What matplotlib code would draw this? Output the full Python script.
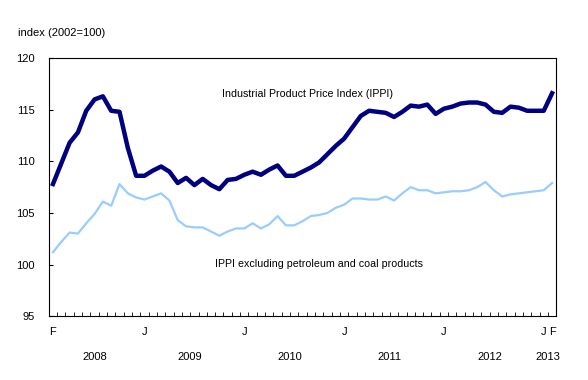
import numpy as np
import matplotlib
matplotlib.use("Agg")
import matplotlib.pyplot as plt

plt.rcParams["font.family"] = ["Liberation Sans", "DejaVu Sans"]

# monthly, Feb 2008 .. Feb 2013
ippi = [107.8, 109.8, 111.8, 112.8, 114.9, 116.0, 116.3, 114.9, 114.8, 111.3,
        108.6, 108.6, 109.1, 109.5, 109.0, 107.9, 108.4, 107.7, 108.3, 107.7,
        107.3, 108.2, 108.3, 108.7, 109.0, 108.7, 109.2, 109.6, 108.6, 108.6,
        109.0, 109.4, 109.9, 110.7, 111.5, 112.2, 113.3, 114.4, 114.9, 114.8,
        114.7, 114.3, 114.8, 115.4, 115.3, 115.5, 114.6, 115.1, 115.3, 115.6,
        115.7, 115.7, 115.5, 114.8, 114.7, 115.3, 115.2, 114.9, 114.9, 114.9,
        116.6]
ippi_ex = [101.2, 102.2, 103.1, 103.0, 104.0, 104.9, 106.1, 105.7, 107.8, 106.9,
           106.5, 106.3, 106.6, 106.9, 106.2, 104.3, 103.7, 103.6, 103.6, 103.2,
           102.8, 103.2, 103.5, 103.5, 104.0, 103.5, 103.9, 104.7, 103.8, 103.8,
           104.2, 104.7, 104.8, 105.0, 105.5, 105.8, 106.4, 106.4, 106.3, 106.3,
           106.6, 106.2, 106.9, 107.5, 107.2, 107.2, 106.9, 107.0, 107.1, 107.1,
           107.2, 107.5, 108.0, 107.2, 106.6, 106.8, 106.9, 107.0, 107.1, 107.2,
           107.9]
month_ticks = [0, 11, 23, 35, 47, 59, 60]
month_labels = ["F", "J", "J", "J", "J", "J", "F"]
years = ["2008", "2009", "2010", "2011", "2012", "2013"]
year_pos = [5, 16.5, 28.5, 40.5, 52.5, 59.5]

x = np.arange(len(ippi))

fig = plt.figure(figsize=(5.88, 3.80), dpi=100)
ax = fig.add_axes([0.083, 0.168, 0.863, 0.679])

ax.plot(x, ippi, color="#000080", lw=3.2, solid_joinstyle="round")
ax.plot(x, ippi_ex, color="#99ccff", lw=1.6)

ax.set_xlim(-0.5, 60.4)
ax.set_ylim(95, 120)
ax.set_yticks([95, 100, 105, 110, 115, 120])
ax.tick_params(axis="y", direction="in", length=3, labelsize=8, pad=10)
ax.set_xticks(month_ticks)
ax.set_xticklabels(month_labels)
ax.set_xticks(np.arange(-0.5, 61, 1), minor=True)
ax.tick_params(axis="x", which="major", length=0, labelsize=8, pad=8)
ax.tick_params(axis="x", which="minor", direction="in", length=3)

for yr, p in zip(years, year_pos):
    ax.text(p, -0.16, yr, transform=ax.get_xaxis_transform(), ha="center",
            va="center", fontsize=8)

ax.text(20.3, 116.5, "Industrial Product Price Index (IPPI)", fontsize=7.7, va="center")
ax.text(19.5, 100.1, "IPPI excluding petroleum and coal products", fontsize=7.7, va="center")
fig.text(0.03, 0.913, "index (2002=100)", fontsize=8, va="center")

fig.savefig("out.png", dpi=100)
